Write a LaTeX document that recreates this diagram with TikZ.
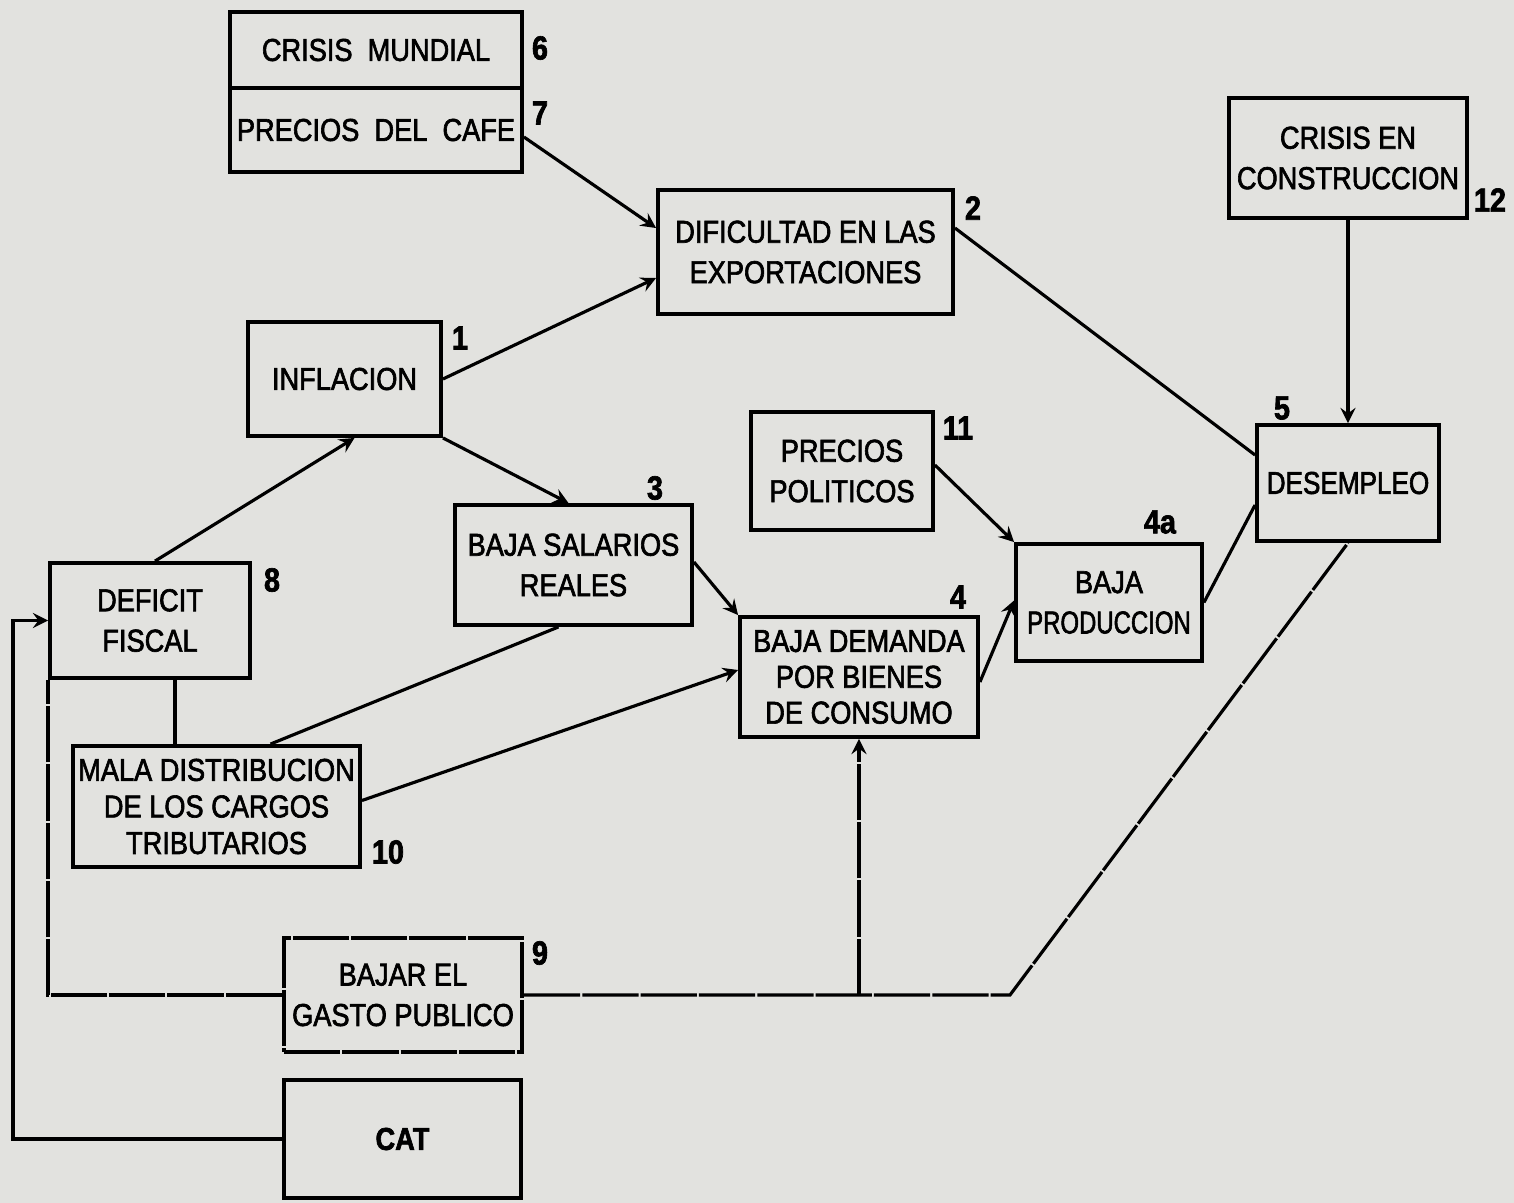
\documentclass[tikz,border=0pt]{standalone}
\usepackage{graphicx}
\usepackage{fontspec}
\setmainfont{Liberation Sans}[FakeStretch=0.86,FakeBold=2]
\definecolor{paper}{RGB}{226,226,223}
\begin{document}
\begin{tikzpicture}[>=stealth,
  box/.style={draw,line width=1.1pt,align=center,inner sep=0pt,font=\fontsize{9}{11.5}\selectfont},
  cutbox/.style={box,dash pattern=on 16pt off 0.6pt},
  num/.style={inner sep=0pt,font=\fontsize{9.5}{11}\selectfont\bfseries},
  link/.style={line width=0.9pt},
  cut/.style={line width=0.9pt,dash pattern=on 16pt off 0.6pt}]
\fill[paper] (0,0) rectangle (15.14,-12.03);
\useasboundingbox (0,0) rectangle (15.14,-12.03);

\node[box,minimum width=2.92cm,minimum height=0.76cm] (crisis) at (3.76,-0.50) {CRISIS\ \ MUNDIAL};
\node[box,minimum width=2.92cm,minimum height=0.84cm] (cafe) at (3.76,-1.30) {PRECIOS\ \ DEL\ \ CAFE};
\node[box,minimum width=2.95cm,minimum height=1.24cm] (dific) at (8.055,-2.52) {DIFICULTAD EN LAS\\EXPORTACIONES};
\node[box,minimum width=2.38cm,minimum height=1.20cm] (constr) at (13.48,-1.58) {CRISIS EN\\CONSTRUCCION};
\node[box,minimum width=1.93cm,minimum height=1.14cm] (infl) at (3.445,-3.79) {INFLACION};
\node[box,minimum width=1.82cm,minimum height=1.18cm] (polit) at (8.42,-4.71) {PRECIOS\\POLITICOS};
\node[box,minimum width=1.82cm,minimum height=1.16cm] (desemp) at (13.48,-4.83) {\scalebox{0.96}[1]{DESEMPLEO}};
\node[box,minimum width=2.37cm,minimum height=1.20cm] (salar) at (5.735,-5.65) {BAJA SALARIOS\\REALES};
\node[box,minimum width=1.86cm,minimum height=1.17cm] (prod) at (11.09,-6.025) {BAJA\\\scalebox{0.88}[1]{PRODUCCION}};
\node[box,minimum width=2.38cm,minimum height=1.20cm,font=\fontsize{9}{10.2}\selectfont] (demand) at (8.59,-6.77) {BAJA DEMANDA\\POR BIENES\\DE CONSUMO};
\node[box,minimum width=2.00cm,minimum height=1.15cm] (deficit) at (1.50,-6.205) {DEFICIT\\FISCAL};
\node[box,minimum width=2.87cm,minimum height=1.21cm,font=\fontsize{9}{10.4}\selectfont] (mala) at (2.165,-8.065) {MALA DISTRIBUCION\\DE LOS CARGOS\\TRIBUTARIOS};
\node[cutbox,minimum width=2.38cm,minimum height=1.14cm] (gasto) at (4.03,-9.95) {BAJAR EL\\GASTO PUBLICO};
\node[box,minimum width=2.37cm,minimum height=1.18cm] (cat) at (4.025,-11.39) {\bfseries CAT};

\node[num] (n6) at (5.40,-0.48) {6};
\node[num] (n7) at (5.40,-1.13) {7};
\node[num] (n2) at (9.73,-2.08) {2};
\node[num] (n12) at (14.90,-2.00) {12};
\node[num] (n1) at (4.60,-3.38) {1};
\node[num] (n11) at (9.58,-4.28) {11};
\node[num] (n5) at (12.82,-4.08) {5};
\node[num] (n3) at (6.55,-4.88) {3};
\node[num] (n4a) at (11.60,-5.22) {4a};
\node[num] (n4) at (9.58,-5.97) {4};
\node[num] (n8) at (2.72,-5.80) {8};
\node[num] (n10) at (3.88,-8.52) {10};
\node[num] (n9) at (5.40,-9.53) {9};

\draw[link,->] ([yshift=-0.07cm]cafe.east) -- ([yshift=0.24cm]dific.west);
\draw[link,->] (infl.east) -- ([yshift=-0.26cm]dific.west);
\draw[link,->] (infl.south east) -- ([xshift=-0.05cm]salar.north);
\draw[link,->] ([xshift=0.05cm]deficit.north) -- ([xshift=0.1cm]infl.south);
\draw[link] ([yshift=0.24cm]dific.east) -- ([yshift=0.28cm]desemp.west);
\draw[link,->] (constr.south) -- (desemp.north);
\draw[link,->] ([yshift=0.06cm]polit.east) -- (prod.north west);
\draw[link,->] ([yshift=-0.05cm]demand.east) -- ([yshift=0.02cm]prod.west);
\draw[link] (prod.east) -- ([yshift=-0.22cm]desemp.west);
\draw[link,->] ([yshift=0.03cm]salar.east) -- (demand.north west);
\draw[link] ([xshift=0.54cm]mala.north) -- ([xshift=-0.15cm]salar.south);
\draw[link,->] ([yshift=0.06cm]mala.east) -- ([yshift=0.07cm]demand.west);
\draw[link] ([xshift=0.25cm]deficit.south) -- ([xshift=0.25cm]deficit.south |- mala.north);

\draw[cut] (gasto.west) -| (deficit.south west);
\coordinate (bend) at (10.10,-9.95);
\draw[cut] (gasto.east) -- (bend) -- (desemp.south);
\draw[cut,->] (demand.south |- gasto.east) -- (demand.south);
\draw[link,->] (cat.west) -- ++(-2.69,0) |- (deficit.west);
\end{tikzpicture}
\end{document}
